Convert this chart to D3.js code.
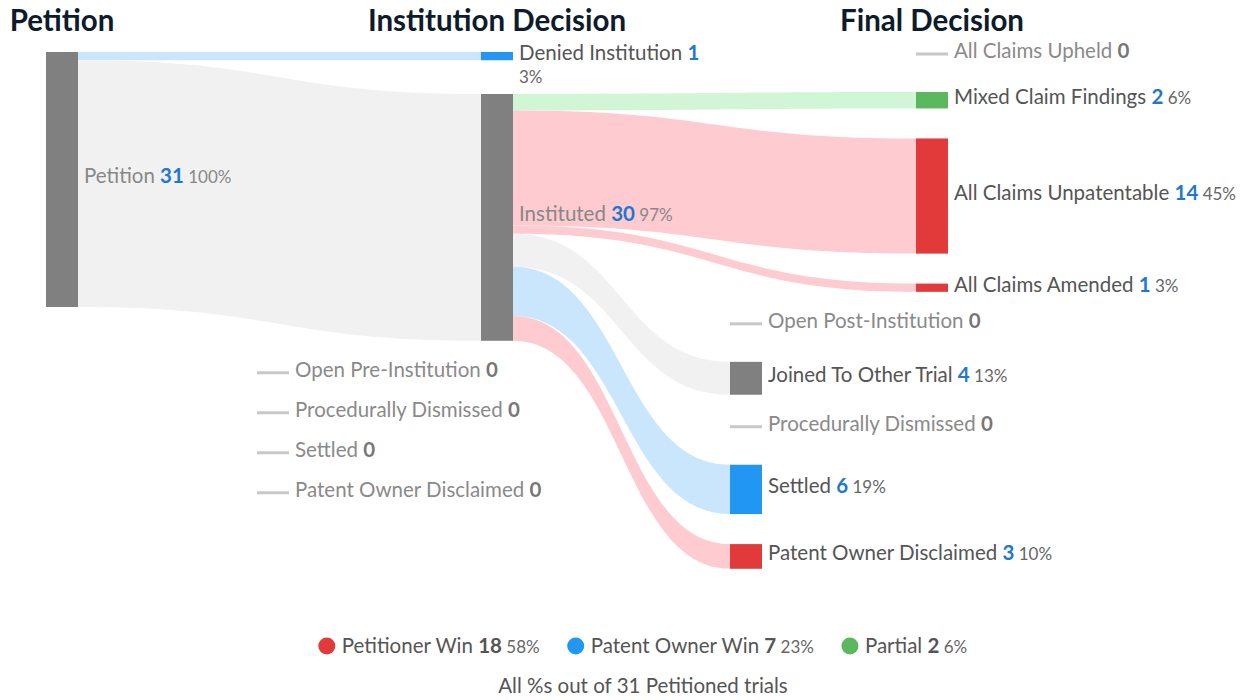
<!DOCTYPE html>
<html>
<head>
<meta charset="utf-8">
<script src="https://cdn.jsdelivr.net/npm/d3@7"></script>
<style>
    body { margin: 0; background: #fff; }
    text { font-family: Lato, "Open Sans", sans-serif; }
</style>
</head>
<body>
<svg id="svg4Sankey"></svg>
<script>
// column headers
var stageNames = ["Petition", "Institution Decision", "Final Decision"];

// nodes, top to bottom inside each stage
var nodeIds = ["petition", "denied", "instituted", "preOpen", "preDismissed", "preSettled", "preDisclaimed",
    "upheld", "mixed", "unpatentable", "amended", "postOpen", "joined", "postDismissed", "settled", "disclaimed"];
var nodeNames = ["Petition", "Denied Institution", "Instituted", "Open Pre-Institution", "Procedurally Dismissed",
    "Settled", "Patent Owner Disclaimed", "All Claims Upheld", "Mixed Claim Findings", "All Claims Unpatentable",
    "All Claims Amended", "Open Post-Institution", "Joined To Other Trial", "Procedurally Dismissed", "Settled",
    "Patent Owner Disclaimed"];
var nodeStages = [0, 1, 1, 1, 1, 1, 1, 2, 2, 2, 2, 2, 2, 2, 2, 2];
var nodeLanes = [0, 0, 0, 1, 1, 1, 1, 0, 0, 0, 0, 1, 1, 1, 1, 1];
var nodeValues = [31, 1, 30, 0, 0, 0, 0, 0, 2, 14, 1, 0, 4, 0, 6, 3];
var nodeKinds = ["neutral", "owner", "neutral", "neutral", "neutral", "neutral", "neutral",
    "neutral", "partial", "petitioner", "petitioner", "neutral", "neutral", "neutral", "owner", "petitioner"];

// flows
var linkSources = ["petition", "petition", "instituted", "instituted", "instituted", "instituted", "instituted", "instituted"];
var linkTargets = ["denied", "instituted", "mixed", "unpatentable", "amended", "joined", "settled", "disclaimed"];
var linkValues = [1, 30, 2, 14, 1, 4, 6, 3];

// legend
var legendNames = ["Petitioner Win", "Patent Owner Win", "Partial"];
var legendKinds = ["petitioner", "owner", "partial"];
var legendValues = [18, 7, 2];
var totalTrials = 31;

var svgW = 1249, svgH = 700;
var nodeW = 32, nodeTop = 52, nodePad = 30, zeroSlot = 10, wrapSlot = 12;
var laneShift = [0, -224, -186];
var fontSize = 20.5, pctSize = 17;

var kinds = ["neutral", "owner", "partial", "petitioner"];
var nodeColor = d3.scaleOrdinal().domain(kinds).range(["#808080", "#2196f3", "#5cb85c", "#e23a3b"]);
var linkColor = d3.scaleOrdinal().domain(kinds).range(["#f1f1f1", "#c9e6fd", "#d1f6d5", "#fdcbd0"]);

var xScale = d3.scalePoint().domain(d3.range(stageNames.length)).range([46, 916]);
var yScale = d3.scaleLinear().domain([0, totalTrials]).range([0, 255]);
var pctFormat = function (v) {
    return Math.round(v / totalTrials * 100) + "%";
};

var svg = d3.select("#svg4Sankey").attr("width", svgW).attr("height", svgH);

// text measuring helper (keeps the spaces)
var measure = function (str, size, weight) {
    var t = svg.append("text")
        .style("white-space", "pre")
        .attr("font-size", size)
        .attr("font-weight", weight || "normal")
        .text(str);
    var w = t.node().getComputedTextLength();
    t.remove();
    return w;
};

var nodes = nodeIds.map(function (id, i) {
    return {
        id: id, name: nodeNames[i], stage: nodeStages[i], lane: nodeLanes[i],
        value: nodeValues[i], kind: nodeKinds[i], outs: [], ins: []
    };
});
var nodeById = {};
nodes.forEach(function (n) { nodeById[n.id] = n; });

var links = linkSources.map(function (s, i) {
    var l = { source: nodeById[s], target: nodeById[linkTargets[i]], value: linkValues[i] };
    l.source.outs.push(l);
    l.target.ins.push(l);
    return l;
});

// x positions and label wrapping
nodes.forEach(function (n) {
    n.x0 = xScale(n.stage) + (n.lane ? laneShift[n.stage] : 0);
    n.x1 = n.x0 + nodeW;
    var next = n.stage + 1 < stageNames.length ? xScale(n.stage + 1) + laneShift[n.stage + 1] - 10 : svgW;
    var w = measure(n.name + " ", fontSize) + measure(String(n.value), fontSize, "bold");
    if (n.value > 0) w += measure(" " + pctFormat(n.value), pctSize);
    n.wrap = n.value > 0 && n.x1 + 6 + w > next;
});

// stack every stage from the top
d3.range(stageNames.length).forEach(function (s) {
    var y = nodeTop;
    nodes.filter(function (n) { return n.stage == s; }).forEach(function (n) {
        var h = yScale(n.value);
        n.y0 = y;
        n.y1 = y + h;
        var slot = n.value == 0 ? zeroSlot : (n.wrap ? Math.max(h, wrapSlot) : h);
        y += slot + nodePad;
    });
});

// link offsets
nodes.forEach(function (n) {
    var sy = n.y0;
    n.outs.forEach(function (l) { l.sy = sy; sy += yScale(l.value); });
    var ty = n.y0;
    n.ins.forEach(function (l) { l.ty = ty; ty += yScale(l.value); });
});

var ribbon = function (l) {
    var x0 = l.source.x1, x1 = l.target.x0, xm = (x0 + x1) / 2;
    var h = yScale(l.value);
    var p = d3.path();
    p.moveTo(x0, l.sy);
    p.bezierCurveTo(xm, l.sy, xm, l.ty, x1, l.ty);
    p.lineTo(x1, l.ty + h);
    p.bezierCurveTo(xm, l.ty + h, xm, l.sy + h, x0, l.sy + h);
    p.closePath();
    return p.toString();
};

// headers
svg.append("g").selectAll("text")
    .data(stageNames)
    .enter().append("text")
    .attr("x", function (d, i) { return xScale(i) + nodeW / 2; })
    .attr("y", 31)
    .attr("text-anchor", "middle")
    .attr("font-size", 29.5)
    .attr("font-weight", "bold")
    .attr("fill", "#0d1b2a")
    .text(function (d) { return d; });

svg.append("g").selectAll("path")
    .data(links)
    .enter().append("path")
    .attr("d", ribbon)
    .attr("fill", function (l) { return linkColor(l.target.kind); });

svg.append("g").selectAll("rect")
    .data(nodes)
    .enter().append("rect")
    .attr("x", function (n) { return n.x0; })
    .attr("y", function (n) { return n.value ? n.y0 : n.y0 + 0.5; })
    .attr("width", nodeW)
    .attr("height", function (n) { return n.value ? n.y1 - n.y0 : 3; })
    .attr("fill", function (n) { return n.value ? nodeColor(n.kind) : "#c8c8c8"; });

var labels = svg.append("g").selectAll("text")
    .data(nodes)
    .enter().append("text")
    .attr("x", function (n) { return n.x1 + 6; })
    .attr("y", function (n) { return (n.value ? (n.y0 + n.y1) / 2 : n.y0 + 2) + 3.8; })
    .attr("font-size", fontSize);

labels.append("tspan")
    .attr("fill", function (n) {
        if (!n.value) return "#8a8a8a";
        return n.outs.length ? "#888" : "#555";
    })
    .text(function (n) { return n.name + " "; });
labels.append("tspan")
    .attr("font-weight", "bold")
    .attr("fill", function (n) { return n.value ? "#1f77d0" : "#777"; })
    .text(function (n) { return n.value; });
labels.filter(function (n) { return n.value > 0; })
    .append("tspan")
    .attr("font-size", pctSize)
    .attr("fill", function (n) { return n.outs.length ? "#888" : "#666"; })
    .attr("x", function (n) { return n.wrap ? n.x1 + 6 : null; })
    .attr("dy", function (n) { return n.wrap ? 23 : null; })
    .text(function (n) { return (n.wrap ? "" : " ") + pctFormat(n.value); });

// legend
var legendG = svg.append("g");
var lx = 0, legendGap = 28;
legendNames.forEach(function (name, i) {
    var item = legendG.append("g").attr("transform", "translate(" + lx + ",0)");
    item.append("circle").attr("cx", 8).attr("cy", 0).attr("r", 8.5).attr("fill", nodeColor(legendKinds[i]));
    var t = item.append("text").attr("x", 23).attr("y", 7).attr("font-size", fontSize).attr("fill", "#555");
    t.append("tspan").text(name + " ");
    t.append("tspan").attr("font-weight", "bold").text(legendValues[i]);
    t.append("tspan").attr("font-size", pctSize).attr("fill", "#666").text(" " + pctFormat(legendValues[i]));
    lx += 23 + t.node().getComputedTextLength() + legendGap;
});
lx -= legendGap;
legendG.attr("transform", "translate(" + (643 - lx / 2) + ",646)");

svg.append("text")
    .attr("x", 643)
    .attr("y", 693)
    .attr("text-anchor", "middle")
    .attr("font-size", fontSize)
    .attr("fill", "#555")
    .text("All %s out of " + totalTrials + " Petitioned trials");
</script>
</body>
</html>
